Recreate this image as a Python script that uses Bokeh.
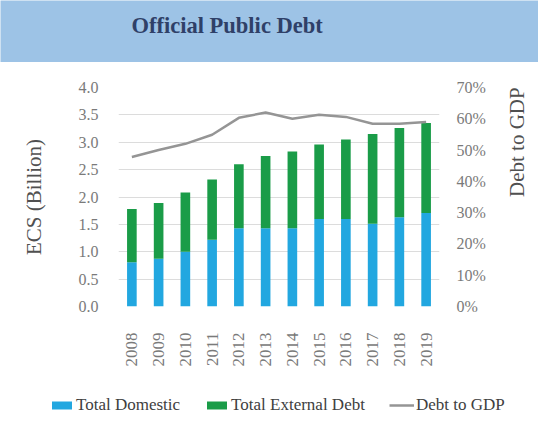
import math
from bokeh.plotting import figure
from bokeh.models import (Range1d, LinearAxis, FactorRange, Legend, LegendItem,
                          NumeralTickFormatter, FixedTicker, ColumnDataSource, Label)
from bokeh.layouts import column
from bokeh.embed import file_html
from bokeh.resources import INLINE

# ---------------- data ----------------
years = ["2008", "2009", "2010", "2011", "2012", "2013", "2014", "2015", "2016", "2017", "2018", "2019"]
total_domestic = [0.81, 0.87, 1.00, 1.22, 1.43, 1.43, 1.43, 1.60, 1.60, 1.51, 1.63, 1.71]
total_external = [0.97, 1.02, 1.08, 1.10, 1.17, 1.32, 1.40, 1.36, 1.45, 1.64, 1.63, 1.64]
debt_to_gdp = [0.478, 0.500, 0.520, 0.549, 0.603, 0.620, 0.600, 0.613, 0.606, 0.584, 0.584, 0.590]
left_ticks = [0.0, 0.5, 1.0, 1.5, 2.0, 2.5, 3.0, 3.5, 4.0]
right_ticks = [0.0, 0.1, 0.2, 0.3, 0.4, 0.5, 0.6, 0.7]
title_text = "Official Public Debt"
left_label = "ECS (Billion)"
right_label = "Debt to GDP"
legend_labels = ["Total Domestic", "Total External Debt", "Debt to GDP"]

# ---------------- styles ----------------
BLUE = "#22a7e0"
GREEN = "#1a9c48"
LINE = "#959595"
BANNER = "#9dc3e6"
TICK = "#7a7a7a"
SERIF = "Liberation Serif"


def bare(fig, bg):
    fig.axis.visible = False
    fig.grid.visible = False
    fig.outline_line_color = None
    fig.background_fill_color = bg
    fig.border_fill_color = bg


# ---------------- banner ----------------
banner = figure(width=538, height=62, x_range=Range1d(0, 538), y_range=Range1d(0, 62),
                toolbar_location=None, output_backend="svg", min_border=0)
bare(banner, BANNER)
banner.add_layout(Label(x=131, y=37.5, text=title_text, text_font=SERIF, text_font_size="22.5px",
                        text_font_style="bold", text_color="#2f4068", text_baseline="middle"))

# ---------------- main chart ----------------
source = ColumnDataSource(dict(years=years, domestic=total_domestic,
                               external=total_external, gdp=debt_to_gdp))

p = figure(x_range=FactorRange(*years), y_range=Range1d(0, 4.0),
           frame_width=321, frame_height=219, min_border_left=118, min_border_right=99,
           min_border_top=25, min_border_bottom=86,
           toolbar_location=None, output_backend="svg")
p.extra_y_ranges = {"pct": Range1d(0, 0.7)}
p.outline_line_color = None
p.background_fill_color = "white"
p.border_fill_color = "white"

bars = p.vbar_stack(["domestic", "external"], x="years", width=0.36,
                    color=[BLUE, GREEN], line_color=None, source=source)
ln = p.line(x="years", y="gdp", y_range_name="pct", line_color=LINE, line_width=2.5, source=source)

# grid
p.xgrid.grid_line_color = None
p.ygrid.ticker = FixedTicker(ticks=left_ticks)
p.ygrid.grid_line_color = "#dcdcdc"
p.ygrid.grid_line_width = 1

# left axis
ya = p.yaxis[0]
ya.ticker = FixedTicker(ticks=left_ticks)
ya.formatter = NumeralTickFormatter(format="0.0")
ya.axis_label = left_label
ya.axis_label_standoff = 30

# right axis
ra = LinearAxis(y_range_name="pct", ticker=FixedTicker(ticks=right_ticks),
                formatter=NumeralTickFormatter(format="0%"), axis_label=right_label)
ra.axis_label_standoff = 28
if "axis_label_orientation" in ra.properties():
    ra.axis_label_orientation = math.pi / 2
p.add_layout(ra, "right")

for ax in (ya, ra):
    ax.axis_label_text_font = SERIF
    ax.axis_label_text_font_size = "21px"
    ax.axis_label_text_font_style = "normal"
    ax.axis_label_text_color = "#505050"

# x axis
xa = p.xaxis[0]
xa.major_label_orientation = math.pi / 2
xa.major_label_standoff = 20

for ax in (ya, ra, xa):
    ax.axis_line_color = None
    ax.major_tick_line_color = None
    ax.minor_tick_line_color = None
    ax.major_label_text_font = SERIF
    ax.major_label_text_font_size = "16px"
    ax.major_label_text_color = TICK
xa.major_label_text_font_size = "17px"
ya.major_label_standoff = 14
ra.major_label_standoff = 11

# ---------------- legend strip ----------------
# same series drawn again in a strip whose value range lies above the data,
# so only their legend glyphs show
leg = figure(width=538, height=29, x_range=FactorRange(*years), y_range=Range1d(10, 39),
             toolbar_location=None, output_backend="svg", min_border=0)
bare(leg, "white")
lbars = leg.vbar_stack(["domestic", "external"], x="years", width=0.36,
                       color=[BLUE, GREEN], line_color=None, source=source)
lline = leg.line(x="years", y="gdp", line_color=LINE, line_width=2.5, source=source)

legend = Legend(items=[LegendItem(label=legend_labels[0], renderers=[lbars[0]]),
                       LegendItem(label=legend_labels[1], renderers=[lbars[1]]),
                       LegendItem(label=legend_labels[2], renderers=[lline])],
                orientation="horizontal", location=(49, 6),
                glyph_width=25, glyph_height=10, label_height=16, label_standoff=2,
                spacing=24, padding=0, margin=0,
                border_line_color=None, background_fill_alpha=0)
legend.label_text_font = SERIF
legend.label_text_font_size = "17px"
legend.label_text_color = "#404040"
leg.add_layout(legend, "center")

for fig in (banner, p, leg):
    if "frame_align" in fig.properties():
        fig.frame_align = False

layout = column(banner, p, leg, spacing=0)
open("out.html", "w").write(file_html(layout, INLINE))
